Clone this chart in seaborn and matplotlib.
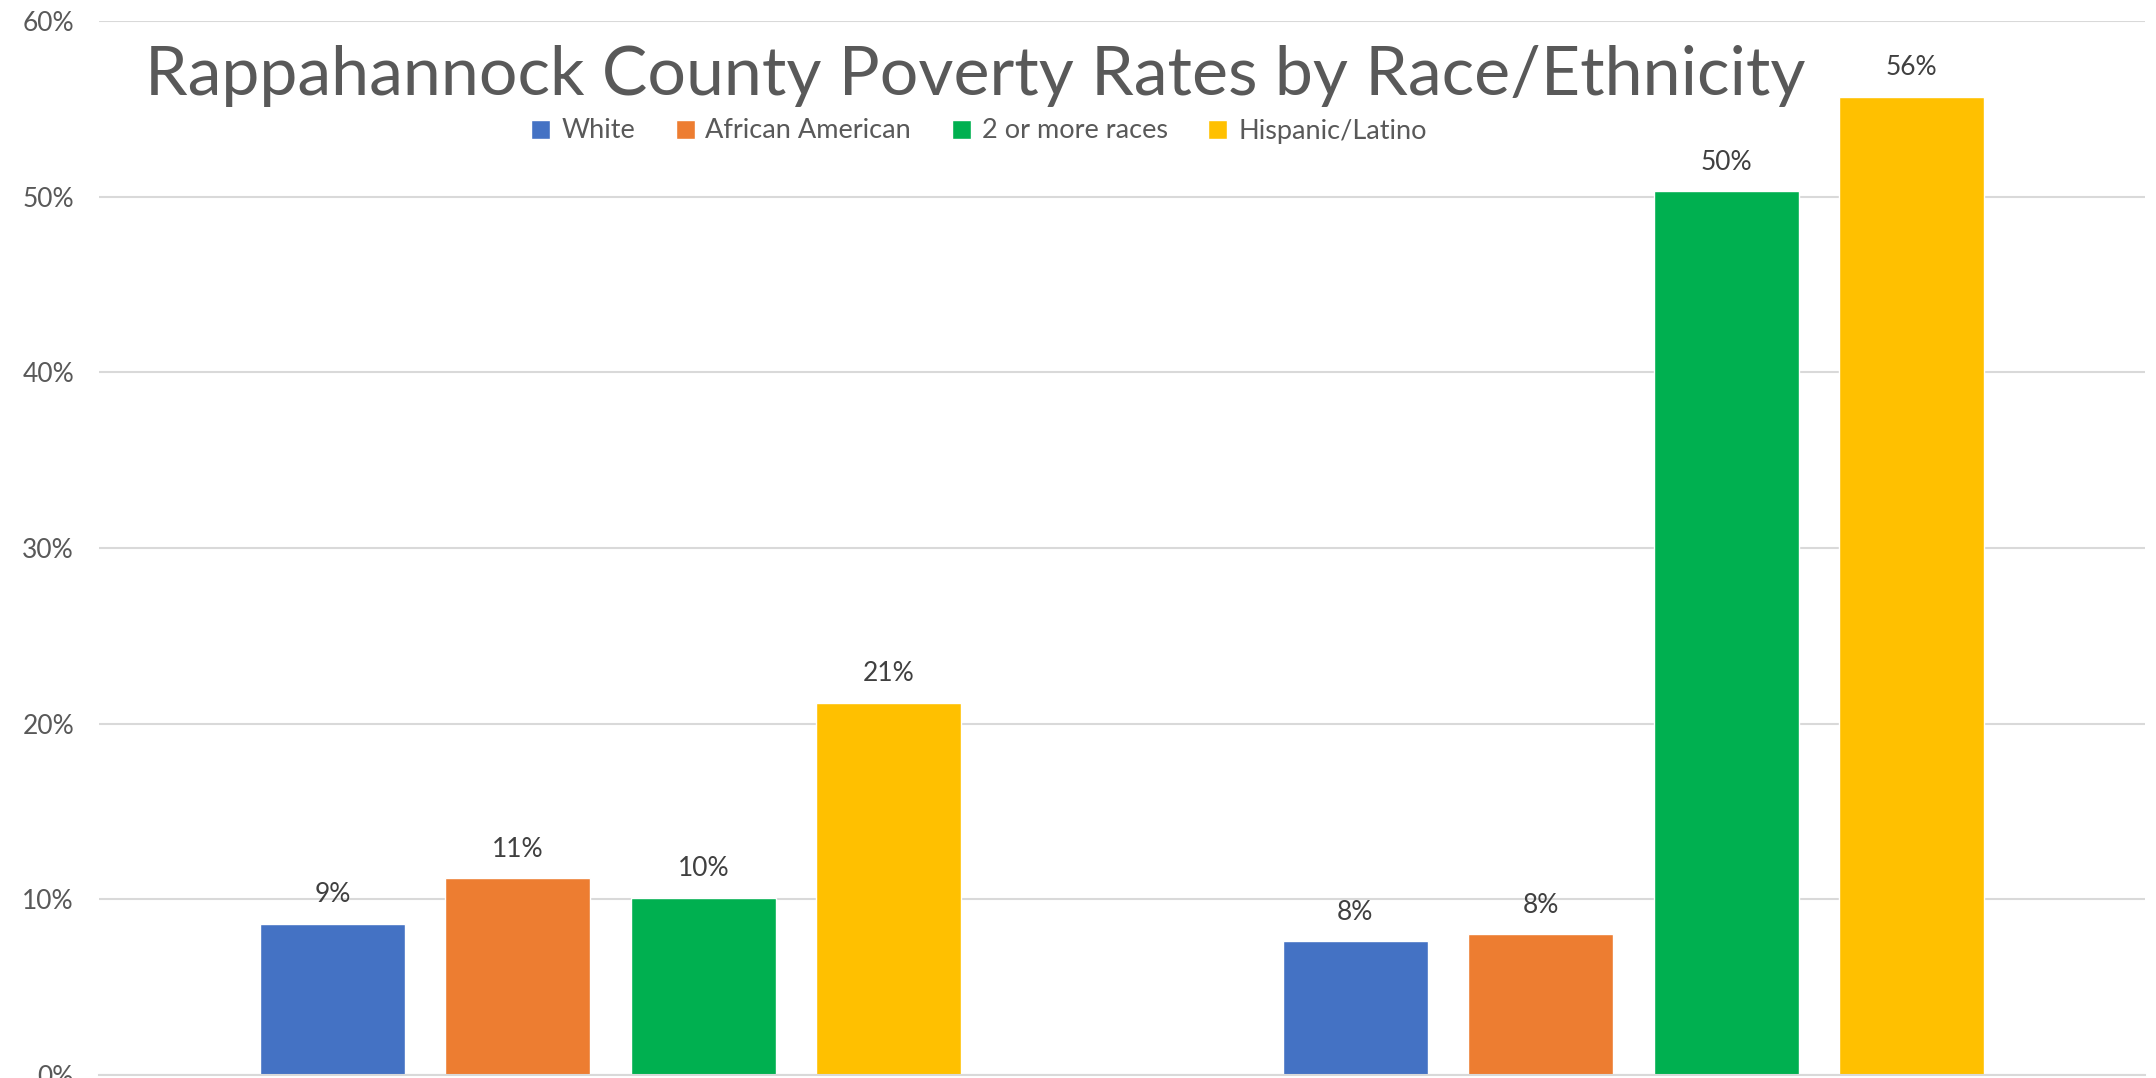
import matplotlib
matplotlib.use("Agg")
import matplotlib.pyplot as plt
import seaborn as sns
import pandas as pd

# ---- data ----
groups = ["Group A", "Group B"]
races = ["White", "African American", "2 or more races", "Hispanic/Latino"]
white = [0.086, 0.076]
african_american = [0.112, 0.080]
two_or_more = [0.101, 0.503]
hispanic = [0.212, 0.557]
colors = ["#4472C4", "#ED7D31", "#00B050", "#FFC000"]
title = "Rappahannock County Poverty Rates by Race/Ethnicity"
yticks = [0, 0.1, 0.2, 0.3, 0.4, 0.5, 0.6]

rows = []
for race, vals in zip(races, [white, african_american, two_or_more, hispanic]):
    for g, v in zip(groups, vals):
        rows.append({"group": g, "race": race, "rate": v})
df = pd.DataFrame(rows)

sns.set_theme(style="white")
plt.rcParams["font.family"] = ["Lato", "DejaVu Sans"]

fig = plt.figure(figsize=(21.56, 10.78), dpi=100)
ax = fig.add_axes([99 / 2156, 3 / 1078, (2145 - 99) / 2156, (1075 - 21) / 1078])

sns.barplot(data=df, x="group", y="rate", hue="race", order=groups,
            hue_order=races, palette=colors, width=0.725, gap=0.22,
            saturation=1, ax=ax, legend=True)

ax.set_ylim(0, 0.6)
ax.set_xlim(-0.5, 1.5)
ax.set_yticks(yticks)
ax.set_yticklabels([f"{t:.0%}" for t in yticks], color="#595959", fontsize=19)
ax.yaxis.grid(True, color="#D9D9D9", linewidth=1.5)
ax.set_axisbelow(True)
ax.set_xticks([-0.5, 0.5, 1.5])
ax.set_xticklabels(["", "", ""])
ax.tick_params(axis="x", length=8, width=1.5, color="#D9D9D9", direction="out")
ax.set_xlabel("")
ax.set_ylabel("")
for s in ["top", "right", "left"]:
    ax.spines[s].set_visible(False)
ax.spines["bottom"].set_color("#D9D9D9")
ax.spines["bottom"].set_linewidth(1.5)
ax.tick_params(axis="y", length=0, pad=18)

for cont in ax.containers:
    ax.bar_label(cont, labels=[f"{v:.0%}" for v in cont.datavalues],
                 padding=12, fontsize=19, color="#404040")

handles, labels = ax.get_legend_handles_labels()
ax.get_legend().remove()
fig.legend(handles, labels, loc="center", ncol=4,
           bbox_to_anchor=(979 / 2156, 1 - 131 / 1078), frameon=False,
           fontsize=19.5, labelcolor="#595959", handlelength=0.7,
           handleheight=0.7, handletextpad=0.4, columnspacing=1.5)

fig.text(975 / 2156, 1 - 95 / 1078, title, ha="center", va="baseline",
         fontsize=49, color="#595959")

fig.savefig("out.png", dpi=100)
